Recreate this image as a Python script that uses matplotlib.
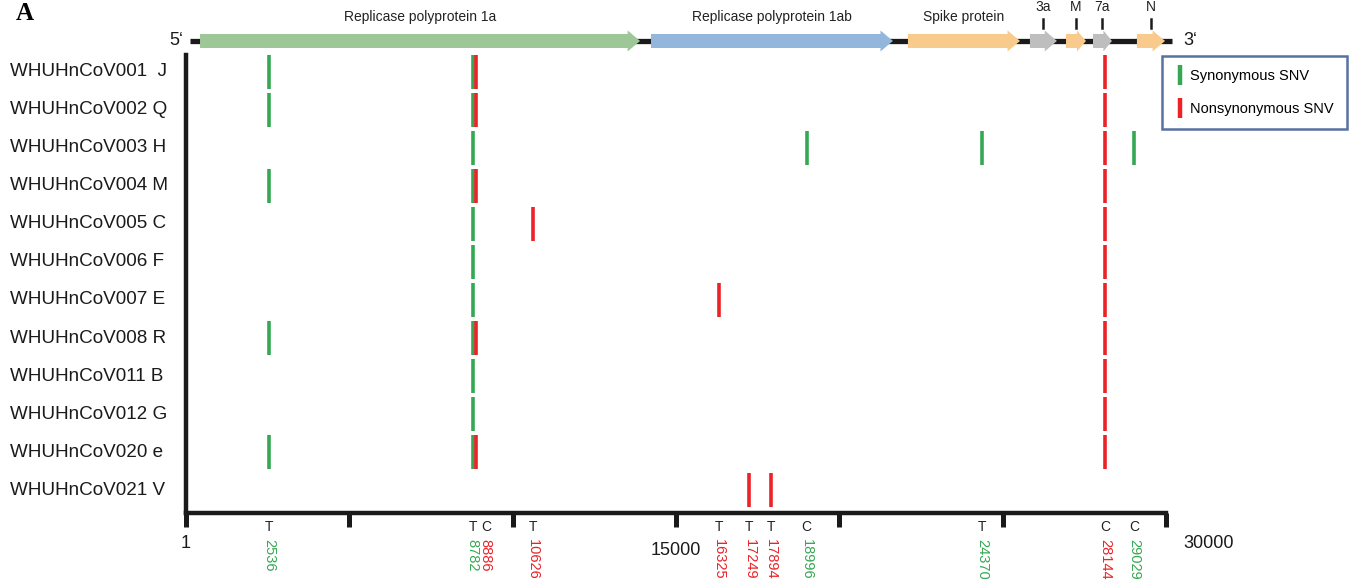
import matplotlib
matplotlib.use("Agg")
import matplotlib.pyplot as plt
from matplotlib.patches import Polygon
from matplotlib.lines import Line2D

plt.rcParams['font.family'] = ['Liberation Sans', 'DejaVu Sans']

# samples, top to bottom
samples = ["WHUHnCoV001  J", "WHUHnCoV002 Q", "WHUHnCoV003 H", "WHUHnCoV004 M",
           "WHUHnCoV005 C", "WHUHnCoV006 F", "WHUHnCoV007 E", "WHUHnCoV008 R",
           "WHUHnCoV011 B", "WHUHnCoV012 G", "WHUHnCoV020 e", "WHUHnCoV021 V"]

# SNV sites: genome position, alternative base, synonymous or not
snv_pos = [2536, 8782, 8886, 10626, 16325, 17249, 17894, 18996, 24370, 28144, 29029]
snv_base = ['T', 'T', 'C', 'T', 'T', 'T', 'T', 'C', 'T', 'C', 'C']
snv_syn = [True, True, False, False, False, False, False, True, True, False, True]

# SNVs carried by each sample
sample_snvs = [
    [2536, 8782, 8886, 28144],
    [2536, 8782, 8886, 28144],
    [8782, 18996, 24370, 28144, 29029],
    [2536, 8782, 8886, 28144],
    [8782, 10626, 28144],
    [8782, 28144],
    [8782, 16325, 28144],
    [2536, 8782, 8886, 28144],
    [8782, 28144],
    [8782, 28144],
    [2536, 8782, 8886, 28144],
    [17249, 17894],
]

# genome annotation
gene_names = ["Replicase polyprotein 1a", "Replicase polyprotein 1ab", "Spike protein",
              "3a", "M", "7a", "N"]
gene_start = [430, 14235, 22100, 25835, 26940, 27765, 29110]
gene_end = [13900, 21640, 25530, 26660, 27550, 28345, 29970]
gene_color = ['#9dc796', '#93b6dc', '#f8cb8c', '#bebebe', '#f8cb8c', '#bebebe', '#f8cb8c']

genome_len = 30000
ticks = [1, 5000, 10000, 15000, 20000, 25000, 30000]

GREEN = '#35a853'
RED = '#ec2227'

W, H = 1357, 580
fig = plt.figure(figsize=(W / 100, H / 100), dpi=100)
ax = fig.add_axes([186 / W, (H - 513) / H, 980 / W, 458 / H])
ax.set_xlim(1, genome_len)
ax.set_ylim(11.605, -0.447)

for s in ['top', 'right']:
    ax.spines[s].set_visible(False)
for s in ['left', 'bottom']:
    ax.spines[s].set_linewidth(3.2)
    ax.spines[s].set_color('#1a1a1a')
ax.set_yticks([])
ax.set_xticks(ticks)
ax.tick_params(axis='x', direction='out', length=10, width=3.6, color='#1a1a1a',
               labelbottom=False)

# sample names
for i, name in enumerate(samples):
    ax.text(-5390, i, name, fontsize=13.6, ha='left', va='center', color='#1a1a1a')

# SNV bars
for i, sites in enumerate(sample_snvs):
    for p in sites:
        c = GREEN if snv_syn[snv_pos.index(p)] else RED
        ax.vlines(p, i - 0.44, i + 0.44, color=c, lw=2.6)

# site labels under the axis, pushed apart where they crowd
px_per_unit = 980 / (genome_len - 1)
min_gap = 13 / px_per_unit
label_x = []
for p in snv_pos:
    x = p
    if label_x and x - label_x[-1] < min_gap:
        x = label_x[-1] + min_gap
    label_x.append(x)
for p, x, b, syn in zip(snv_pos, label_x, snv_base, snv_syn):
    ax.text(x, 11.97, b, fontsize=10, ha='center', va='center', color='#222222')
    ax.text(x, 12.3, str(p), fontsize=10.5, rotation=270, ha='center', va='top',
            color=GREEN if syn else RED)

ax.text(1, 12.4, '1', fontsize=13, ha='center', va='center', color='#1a1a1a')
ax.text(15000, 12.58, '15000', fontsize=13, ha='center', va='center', color='#1a1a1a')
ax.text(30520, 12.4, '30000', fontsize=13, ha='left', va='center', color='#1a1a1a')

# genome track
track_y = -0.816
ax.plot([123, 30180], [track_y, track_y], color='#1a1a1a', lw=3.8,
        solid_capstyle='butt', clip_on=False)
body_h = 7 / 38
head_h = 10.5 / 38
for name, x0, x1, c in zip(gene_names, gene_start, gene_end, gene_color):
    hl = min(380, 0.45 * (x1 - x0))
    verts = [(x0, track_y - body_h), (x1 - hl, track_y - body_h),
             (x1 - hl, track_y - head_h), (x1, track_y), (x1 - hl, track_y + head_h),
             (x1 - hl, track_y + body_h), (x0, track_y + body_h)]
    ax.add_patch(Polygon(verts, closed=True, facecolor=c, edgecolor='none',
                         clip_on=False, zorder=3))
    xc = (x0 + x1) / 2
    if len(name) > 2:
        ax.text(xc, -1.447, name, fontsize=10, ha='center', va='center', color='#222222')
    else:
        ax.text(xc, -1.70, name, fontsize=10, ha='center', va='center', color='#222222')
        ax.plot([xc, xc], [-1.39, -1.16], color='#1a1a1a', lw=1.8, clip_on=False)

ax.text(-90, track_y, '5\u2018', fontsize=13, ha='right', va='center', color='#1a1a1a')
ax.text(30520, track_y, '3\u2018', fontsize=13, ha='left', va='center', color='#1a1a1a')

# legend
handles = [Line2D([], [], color=GREEN, marker='|', linestyle='None', markersize=15,
                  markeredgewidth=3.2, label='Synonymous SNV'),
           Line2D([], [], color=RED, marker='|', linestyle='None', markersize=15,
                  markeredgewidth=3.2, label='Nonsynonymous SNV')]
leg = fig.legend(handles=handles, loc='upper left', bbox_to_anchor=(1162 / W, 1 - 56 / H),
                 fontsize=10.5, frameon=True, fancybox=False, borderpad=0.9,
                 labelspacing=1.3, handlelength=0.6, handletextpad=0.45, borderaxespad=0)
leg.get_frame().set_edgecolor('#2f4d8a')
leg.get_frame().set_linewidth(1.8)

fig.text(16 / W, 1 - 2 / H, 'A', family='Liberation Serif', weight='bold', fontsize=18,
         va='top', ha='left')

fig.savefig('out.png', dpi=100)
